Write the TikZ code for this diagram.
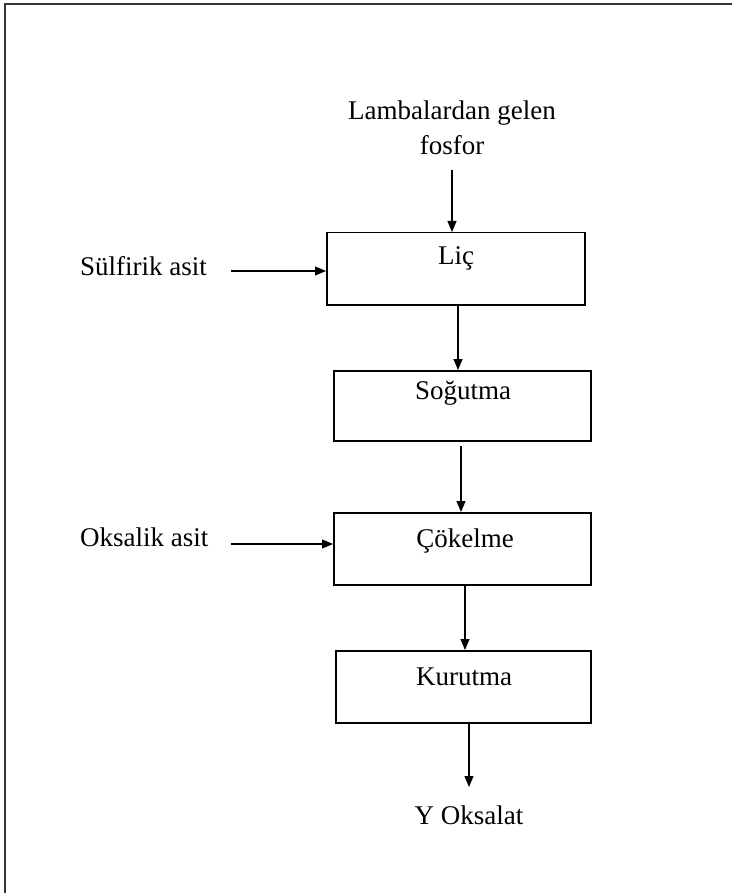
\documentclass[tikz,border=0pt]{standalone}
\usepackage{fontspec}
\setmainfont{Liberation Serif}
\usetikzlibrary{arrows.meta}
\begin{document}
\begin{tikzpicture}[x=1pt,y=-1pt,
  stage/.style={draw, line width=1.5pt, minimum height=72pt, inner sep=0pt, anchor=north west},
  label/.style={font=\fontsize{27}{35}\selectfont, inner sep=0pt},
  flow/.style={line width=1.1pt, -{Triangle[length=11pt,width=9pt]}}]
\useasboundingbox (0,0) rectangle (731,893);
% outer frame, running past the page on the right and bottom
\draw[line width=2pt, gray!40!black] (5,4) rectangle (760,920);

% process stages
\node[stage, minimum width=258pt] (lic) at (326,232) {};
\node[label] at (456,258) {Liç};
\node[stage, minimum width=257pt, minimum height=70pt] (sog) at (333,370) {};
\node[label] at (463,393) {Soğutma};
\node[stage, minimum width=257pt] (cok) at (333,512) {};
\node[label] at (465,541) {Çökelme};
\node[stage, minimum width=255pt] (kur) at (335,650) {};
\node[label] at (464,677) {Kurutma};

% inputs and product
\node[label, align=center] (lamba) at (452,128) {Lambalardan gelen\\fosfor};
\node[label, anchor=west] (sulf) at (80,266) {Sülfirik asit};
\node[label, anchor=west] (oks) at (80,537) {Oksalik asit};
\node[label] (yoks) at (469,815) {Y Oksalat};

% free ends of the connectors
\coordinate (a0) at (452,170);
\coordinate (s0) at (231,271);
\coordinate (o0) at (231,544);
\coordinate (y1) at (469,787);

\draw[flow] (a0) -- (a0 |- lic.north);
\draw[flow] (s0) -- (s0 -| lic.west);
\draw[flow] (458,305) -- (458,370);
\draw[flow] (461,446) -- (461,512);
\draw[flow] (o0) -- (o0 -| cok.west);
\draw[flow] (465,586) -- (465,650);
\draw[flow] (469,723) -- (y1);
\end{tikzpicture}
\end{document}
